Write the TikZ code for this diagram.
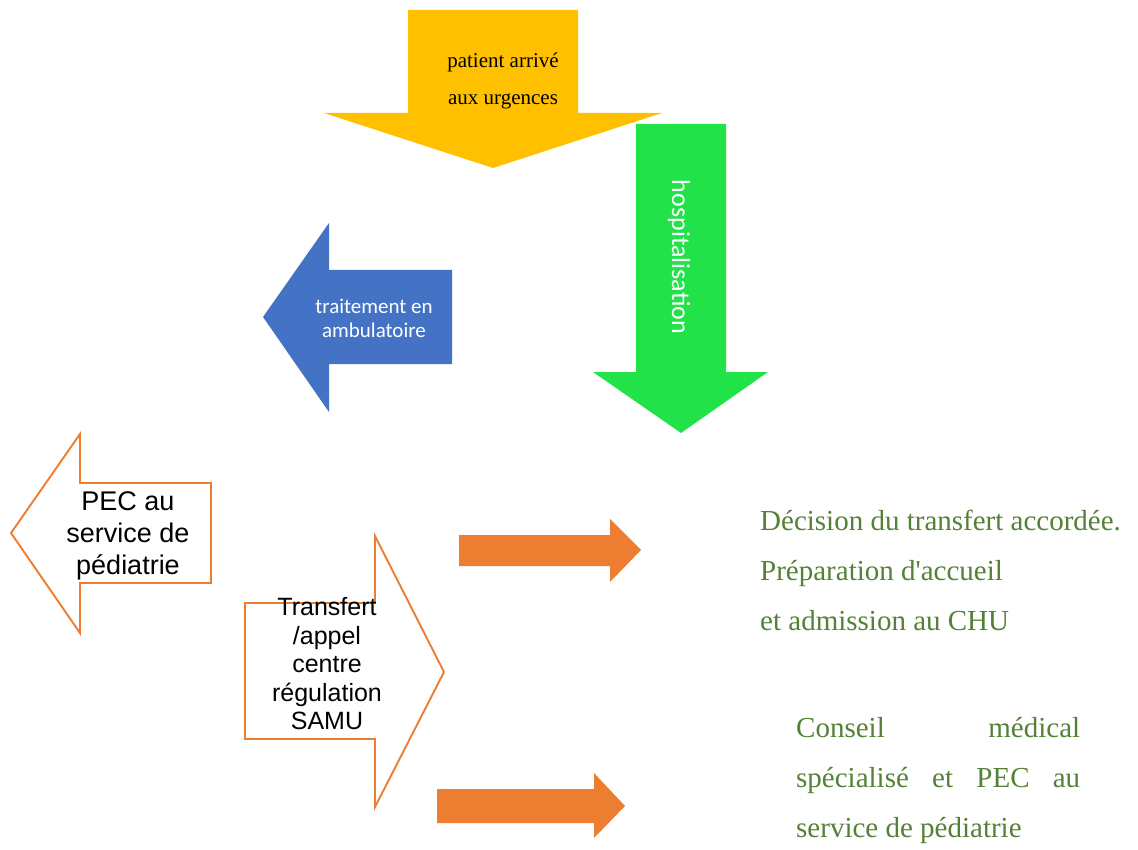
\documentclass[tikz,border=0pt]{standalone}
\usepackage{fontspec}
\setmainfont{Liberation Serif}
\newfontfamily\notefont{Liberation Serif}
\newfontfamily\calibrifont{Carlito}
\newfontfamily\boxfont{Liberation Sans}
\usepackage{tikz}
\definecolor{urgyellow}{HTML}{FFC000}
\definecolor{hospgreen}{HTML}{22E24A}
\definecolor{ambublue}{HTML}{4472C4}
\definecolor{peach}{HTML}{ED7D31}
\definecolor{textgreen}{HTML}{538135}

\begin{document}
\begin{tikzpicture}[x=1pt, y=-1pt,
    outlined/.style={draw=peach, line width=1.9pt, fill=white, line join=miter},
    boxtext/.style={font=\boxfont, align=center, inner sep=0pt},
    notetext/.style={text=textgreen, font=\notefont\fontsize{29}{50}\selectfont, align=left, inner sep=0pt}]
    \useasboundingbox (0,0) rectangle (1138,850);

    \fill[urgyellow] (408,10) -- (578,10) -- (578,113) -- (662,113) -- (493,168) -- (324,113) -- (408,113) -- cycle;
    \node [font=\fontsize{21}{37}\selectfont, align=center, inner sep=0pt] (arrival) at (503,81) {patient arrivé\\aux urgences};

    \fill[hospgreen] (636,124) -- (726,124) -- (726,372) -- (768,372) -- (681,433) -- (593,372) -- (636,372) -- cycle;
    \node [font=\calibrifont\fontsize{26}{30}\selectfont, text=white, rotate=-90, inner sep=0pt] (hosp) at (679,257) {hospitalisation};

    \fill[ambublue] (263,317) -- (329,223) -- (329,270) -- (452,270) -- (452,364) -- (329,364) -- (329,412) -- cycle;
    \node [font=\calibrifont\fontsize{21}{24}\selectfont, text=white, align=center, inner sep=0pt] (ambu) at (374,318) {traitement en\\ambulatoire};

    \draw[outlined] (11,533) -- (80,434) -- (80,483) -- (211,483) -- (211,583) -- (80,583) -- (80,633) -- cycle;
    \node [boxtext, font=\boxfont\fontsize{27}{32}\selectfont] (pec) at (128,536) {PEC au\\service de\\pédiatrie};

    \draw[outlined] (245,603) -- (375,603) -- (375,536) -- (444,672) -- (375,807) -- (375,739) -- (245,739) -- cycle;
    \node [boxtext, font=\boxfont\fontsize{25}{28.5}\selectfont] (samu) at (327,664) {Transfert\\/appel\\centre\\régulation\\SAMU};

    \fill[peach] (459,535) -- (610,535) -- (610,519) -- (641,550) -- (610,582) -- (610,566) -- (459,566) -- cycle;
    \fill[peach] (437,789) -- (594,789) -- (594,773) -- (625,806) -- (594,838) -- (594,823) -- (437,823) -- cycle;

    \node [notetext, anchor=west] (decision) at (760,570) {Décision du transfert accordée.\\Préparation d'accueil\\et admission au CHU};
    \node [notetext, anchor=west] (conseil) at (796,780) {\makebox[284pt][s]{Conseil médical}\\\makebox[284pt][s]{spécialisé et PEC au}\\service de pédiatrie};
\end{tikzpicture}
\end{document}
